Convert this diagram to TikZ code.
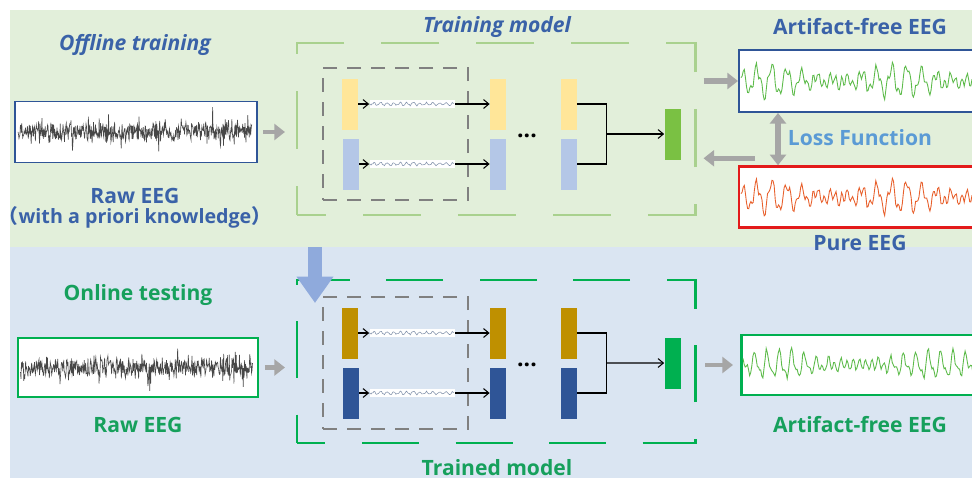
\documentclass[tikz,border=0pt]{standalone}
\usepackage{fontspec}
\setmainfont{Open Sans}
\newfontfamily\cjk{Noto Sans CJK SC}
\usetikzlibrary{positioning, arrows.meta, calc}
\definecolor{bggreen}{HTML}{E2EFDA}
\definecolor{bgblue}{HTML}{DAE5F2}
\definecolor{txtblue}{HTML}{3A62A8}
\definecolor{lossblue}{HTML}{5B9BD5}
\definecolor{txtgreen}{HTML}{16A05C}
\definecolor{modelgreen}{HTML}{A9D18E}
\definecolor{trainedgreen}{HTML}{00B050}
\definecolor{lightyellow}{HTML}{FFE699}
\definecolor{lightblue}{HTML}{B4C7E7}
\definecolor{leafgreen}{HTML}{7AC143}
\definecolor{darkyellow}{HTML}{BF9000}
\definecolor{darkblue}{HTML}{2F5597}
\definecolor{boxblue}{HTML}{2F5597}
\definecolor{boxred}{HTML}{E31A1A}
\definecolor{arrowgrey}{HTML}{A6A6A6}
\definecolor{dropblue}{HTML}{8FAADC}
\definecolor{sigorange}{HTML}{E8602C}
\definecolor{siggreen}{HTML}{5DBB4A}
\definecolor{squiggrey}{HTML}{7F8FA9}

\begin{document}
\begin{tikzpicture}[x=0.2mm, y=-0.2mm,
    font=\fontsize{12}{13}\selectfont\bfseries,
    bar/.style={minimum width=3.2mm, minimum height=10.2mm, inner sep=0pt},
    sigbox/.style={draw, fill=white, line width=1.1pt, minimum width=48.4mm,
      minimum height=12.2mm, inner sep=0pt},
    txt/.style={inner sep=1pt},
    slanted/.style={font=\fontsize{12}{13}\selectfont\bfseries\itshape},
    greyarrow/.style={draw=arrowgrey, line width=3pt, -{Triangle[length=6pt, width=9pt]}},
    thinarrow/.style={line width=0.6pt, -{Straight Barb[length=3pt, width=5pt]}},
    squiggle/.style={fill=white, minimum width=17mm, minimum height=1.6mm, inner sep=0pt},
    modelbox/.style={line width=1.7pt, minimum width=79.6mm}]
  \clip (0,0) rectangle (972,481);
  \fill[white] (0,0) rectangle (972,481);
  \fill[bggreen] (10,10) rectangle (972,247);
  \fill[bgblue] (10,247) rectangle (972,478);

  % offline training
  \node[txt, slanted, text=txtblue] (offT) at (135,45) {Offline training};
  \node[sigbox, draw=boxblue] (rawT) at (136,132) {};
  \node[txt, text=txtblue, align=center, font=\fontsize{12}{11.5}\selectfont\bfseries] (rawTlbl) at (135,208)
    {Raw EEG\\{\fontsize{11.2}{11.5}\selectfont{\cjk （}with a priori knowledge{\cjk ）}}};
  \node[modelbox, draw=modelgreen, minimum height=34.4mm,
    dash pattern=on 11.6mm off 7.4mm, dash phase=5.8mm] (trainT) at (496,129) {};
  \node[txt, slanted, text=txtblue] (trainTlbl) at (497,27) {Training model};
  \node[sigbox, draw=boxblue, anchor=west, minimum width=50mm, minimum height=12.4mm] (artT) at (738,81) {};
  \node[txt, text=txtblue] (artTlbl) at (860,27) {Artifact-free EEG};
  \node[txt, text=lossblue] (lossT) at (860,138) {Loss Function};
  \node[sigbox, draw=boxred, line width=1.4pt, anchor=west, minimum width=50mm] (pureT) at (738,197) {};
  \node[txt, text=txtblue] (pureTlbl) at (860,243) {Pure EEG};

  % online testing
  \node[txt, text=txtgreen] (onB) at (138,295) {Online testing};
  \node[sigbox, draw=trainedgreen, line width=1.7pt, minimum width=48mm, minimum height=11.8mm] (rawB) at (138,367.5) {};
  \node[txt, text=txtgreen] (rawBlbl) at (138,425) {Raw EEG};
  \node[modelbox, draw=trainedgreen, minimum height=32.6mm,
    dash pattern=on 11.4mm off 7.3mm, dash phase=5.7mm] (trainB) at (496,361.5) {};
  \node[txt, text=txtgreen] (trainBlbl) at (497,468) {Trained model};
  \node[sigbox, draw=trainedgreen, line width=1.7pt, anchor=west, minimum width=50mm, minimum height=12mm] (outB) at (740,365) {};
  \node[txt, text=txtgreen] (outBlbl) at (860,425) {Artifact-free EEG};

  % the two networks
  \foreach \s/\dy/\ca/\cb/\cg in {T/0/lightyellow/lightblue/leafgreen, B/229/darkyellow/darkblue/trainedgreen} {
    \node[draw=gray, line width=1.1pt, dash pattern=on 2.8mm off 2mm,
      minimum width=29mm, minimum height=26.4mm] (inner\s) at (395.5,134+\dy) {};
    \node[bar, fill=\ca] (ya\s) at (350,104+\dy) {};
    \node[bar, fill=\cb] (ba\s) at (351,164+\dy) {};
    \node[bar, fill=\ca] (yb\s) at (498,104+\dy) {};
    \node[bar, fill=\cb] (bb\s) at (498,164+\dy) {};
    \node[bar, fill=\ca] (yc\s) at (568.5,104+\dy) {};
    \node[bar, fill=\cb] (bc\s) at (568.5,164+\dy) {};
    \node[bar, fill=\cg] (merge\s) at (672.5,134+\dy) {};
    \node[font=\fontsize{13}{13}\selectfont\bfseries] (dots\s) at (527,136+\dy) {...};
    \node[squiggle] (sqa\s) at (412,104+\dy) {};
    \node[squiggle] (sqb\s) at (412,164+\dy) {};
    \foreach \q in {sqa\s, sqb\s} {
      \pgfmathsetseed{5}
      \begin{scope}[shift={(\q.west)}]
        \draw[squiggrey, line width=0.3pt] plot[domain=0:85, samples=90] (\x, {1.3*sin(\x*55)+0.8*rand});
      \end{scope}
    }
    \draw[thinarrow] (ya\s) -- (sqa\s);
    \draw[thinarrow] (sqa\s) -- (yb\s);
    \draw[thinarrow] (ba\s) -- (sqb\s);
    \draw[thinarrow] (sqb\s) -- (bb\s);
    \draw[line width=0.6pt] (yc\s.east) -- ++(30,0) |- (bc\s.east);
    \draw[thinarrow] ($(yc\s.east)!0.5!(bc\s.east)+(30,0)$) -- (merge\s);
  }

  % signals
  \pgfmathsetseed{3}
  \begin{scope}[shift={(rawT.west)}]
    \draw[black!72, line width=0.35pt] plot[domain=4:238, samples=500] (\x, {8*rand+20*rand*rand*rand});
  \end{scope}
  \pgfmathsetseed{8}
  \begin{scope}[shift={(rawB.west)}]
    \draw[black!72, line width=0.35pt] plot[domain=4:236, samples=500] (\x, {8*rand+20*rand*rand*rand});
  \end{scope}
  \pgfmathsetseed{21}
  \begin{scope}[shift={(artT.west)}]
    \draw[siggreen, line width=0.5pt] plot[domain=3:245, samples=220]
      (\x, {-(14*sin(\x*24)*(0.6+0.4*sin(\x*2.8))+5*sin(\x*63+40)+2*rand)});
  \end{scope}
  \pgfmathsetseed{21}
  \begin{scope}[shift={(pureT.west)}]
    \draw[sigorange, line width=0.5pt] plot[domain=3:245, samples=220]
      (\x, {-(14*sin(\x*24)*(0.6+0.4*sin(\x*2.8))+5*sin(\x*63+40)+2*rand)});
  \end{scope}
  \pgfmathsetseed{34}
  \begin{scope}[shift={(outB.west)}]
    \draw[siggreen, line width=0.5pt] plot[domain=3:245, samples=220]
      (\x, {-(12*sin(\x*29+20)*(0.5+0.5*sin(\x*2.3))+5*sin(\x*58)+2*rand)});
  \end{scope}

  % grey arrows
  \draw[greyarrow, line width=2.5pt, shorten <=3pt, shorten >=6pt] (rawT.east) -- (rawT.east -| trainT.west);
  \draw[greyarrow, shorten <=4pt] (artT.west -| trainT.east) -- (artT.west);
  \coordinate (fbT) at ($(pureT.north west)+(17,-7)$);
  \draw[greyarrow, shorten >=4pt] (fbT) -- (fbT -| trainT.east);
  \draw[greyarrow, {Triangle[length=6pt, width=9pt]}-{Triangle[length=6pt, width=9pt]}]
    ($(artT.south west)+(40,0)$) -- ($(pureT.north west)+(40,0)$);
  \draw[greyarrow, line width=2.5pt, shorten <=3pt, shorten >=6pt] (rawB.east) -- (rawB.east -| trainB.west);
  \draw[greyarrow, line width=2.5pt, shorten <=5pt, shorten >=4pt] (outB.west -| trainB.east) -- (outB.west);

  % model handed down
  \coordinate (dropTop) at (315,247);
  \coordinate (dropEnd) at (315,303);
  \draw[dropblue, line width=8.5pt, -{Triangle[length=15pt, width=20pt]}] (dropTop) -- (dropEnd);
\end{tikzpicture}
\end{document}
